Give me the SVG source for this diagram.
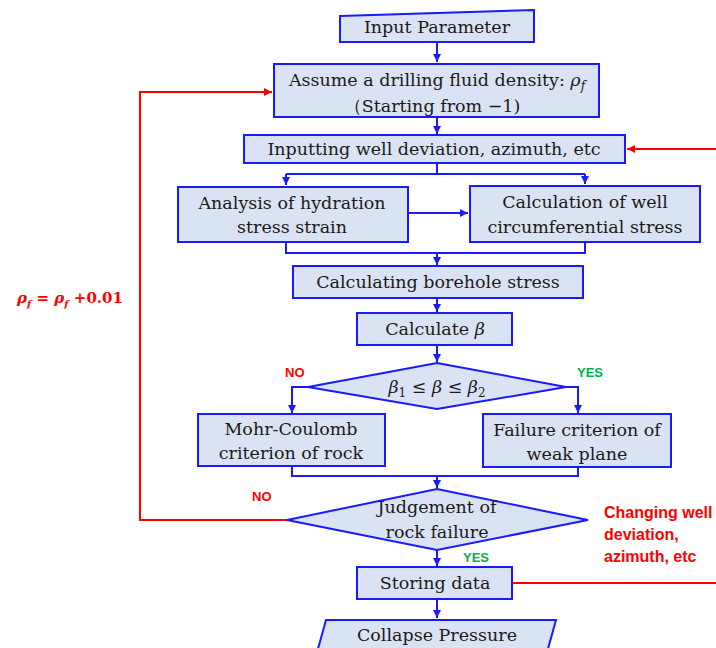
<svg xmlns="http://www.w3.org/2000/svg" width="716" height="648" viewBox="0 0 716 648">
<defs>
<marker id="ab" markerUnits="userSpaceOnUse" markerWidth="10" markerHeight="10" refX="8" refY="4" orient="auto"><path d="M0,0 L8,4 L0,8 Z" fill="#1a1aff"/></marker>
<marker id="ar" markerUnits="userSpaceOnUse" markerWidth="10" markerHeight="10" refX="8" refY="4" orient="auto"><path d="M0,0 L8,4 L0,8 Z" fill="#ff0000"/></marker>
<style>
.n{fill:#dae3f3;stroke:#1a1aff;stroke-width:2}
.t{font-family:"DejaVu Serif","Liberation Serif",serif;font-size:17.5px;fill:#1a1a1a;text-anchor:middle}
.m{font-style:italic}
.c{fill:none;stroke:#1a1aff;stroke-width:2}
.r{fill:none;stroke:#ff0000;stroke-width:2}
.lr{font-family:"Liberation Sans",Arial,sans-serif;font-weight:bold;font-size:13px;fill:#ff0000}
.lg{font-family:"Liberation Sans",Arial,sans-serif;font-weight:bold;font-size:13px;fill:#00b050}
.rl{font-family:"Liberation Sans",Arial,sans-serif;font-weight:bold;font-size:16px;fill:#ff0000}
</style>
</defs>
<g id="connectors">
<path class="c" d="M437 42 V62" marker-end="url(#ab)"/>
<path class="c" d="M437 117 V134" marker-end="url(#ab)"/>
<path class="c" d="M437 163 V174 M286 174 H585" />
<path class="c" d="M286 174 V185" marker-end="url(#ab)"/>
<path class="c" d="M585 174 V184" marker-end="url(#ab)"/>
<path class="c" d="M408 213 H468" marker-end="url(#ab)"/>
<path class="c" d="M286 242 V253 H585 V242"/>
<path class="c" d="M437 253 V265" marker-end="url(#ab)"/>
<path class="c" d="M437 298 V312" marker-end="url(#ab)"/>
<path class="c" d="M437 345 V362" marker-end="url(#ab)"/>
<path class="c" d="M308 387 H292 V413" marker-end="url(#ab)"/>
<path class="c" d="M566 387 H578 V413" marker-end="url(#ab)"/>
<path class="c" d="M292 466 V476 H578 V467"/>
<path class="c" d="M437 476 V488" marker-end="url(#ab)"/>
<path class="c" d="M437 550 V566" marker-end="url(#ab)"/>
<path class="c" d="M437 599 V618" marker-end="url(#ab)"/>
<path class="r" d="M287 520 H140 V92 H272" marker-end="url(#ar)"/>
<path class="r" d="M512 583 H716"/>
<path class="r" d="M716 149 H627" marker-end="url(#ar)"/>
</g>
<g id="input">
<polygon class="n" points="340,16 534,10 534,42 340,42"/>
<text class="t" x="437" y="33">Input Parameter</text>
</g>
<g id="assume">
<rect class="n" x="274" y="64" width="325" height="53"/>
<text class="t" x="437" y="86">Assume a drilling fluid density: <tspan class="m">ρ</tspan><tspan class="m" font-size="12" dy="4">f</tspan></text>
<text class="t" x="432" y="112">（Starting from −1)</text>
</g>
<g id="inputting">
<rect class="n" x="244" y="135" width="381" height="28"/>
<text class="t" x="434" y="155">Inputting well deviation, azimuth, etc</text>
</g>
<g id="hydration">
<rect class="n" x="178" y="187" width="230" height="55"/>
<text class="t" x="292" y="209">Analysis of hydration</text>
<text class="t" x="292" y="233">stress strain</text>
</g>
<g id="circum">
<rect class="n" x="470" y="186" width="230" height="56"/>
<text class="t" x="585" y="208">Calculation of well</text>
<text class="t" x="585" y="233">circumferential stress</text>
</g>
<g id="borehole">
<rect class="n" x="293" y="266" width="290" height="32"/>
<text class="t" x="438" y="288">Calculating borehole stress</text>
</g>
<g id="beta">
<rect class="n" x="357" y="313" width="155" height="32"/>
<text class="t" x="435" y="335">Calculate <tspan class="m">β</tspan></text>
</g>
<g id="cond">
<polygon class="n" points="437,363 566,387 437,409 308,387"/>
<text class="t" x="437" y="393"><tspan class="m">β</tspan><tspan font-size="12" dy="4">1</tspan><tspan dy="-4"> ≤ </tspan><tspan class="m">β</tspan> ≤ <tspan class="m">β</tspan><tspan font-size="12" dy="4">2</tspan></text>
</g>
<g id="mohr">
<rect class="n" x="198" y="414" width="187" height="52"/>
<text class="t" x="291" y="435">Mohr-Coulomb</text>
<text class="t" x="291" y="459">criterion of rock</text>
</g>
<g id="weak">
<rect class="n" x="483" y="414" width="188" height="53"/>
<text class="t" x="577" y="436">Failure criterion of</text>
<text class="t" x="577" y="460">weak plane</text>
</g>
<g id="judge">
<polygon class="n" points="437,489 588,520 437,550 287,520"/>
<text class="t" x="437" y="513">Judgement of</text>
<text class="t" x="437" y="538">rock failure</text>
</g>
<g id="store">
<rect class="n" x="357" y="567" width="155" height="32"/>
<text class="t" x="435" y="589">Storing data</text>
</g>
<g id="collapse">
<polygon class="n" points="326,620 556,620 546,656 316,656"/>
<text class="t" x="437" y="641">Collapse Pressure</text>
</g>
<g id="labels">
<text class="lr" x="285" y="377">NO</text>
<text class="lg" x="577" y="377">YES</text>
<text class="lr" x="252" y="501">NO</text>
<text class="lg" x="463" y="562">YES</text>
<text class="rl" x="604" y="518">Changing well</text>
<text class="rl" x="604" y="540">deviation,</text>
<text class="rl" x="604" y="562">azimuth, etc</text>
<text x="17" y="303" font-family="DejaVu Serif,serif" font-weight="bold" font-size="15" fill="#ff0000"><tspan font-style="italic">ρ</tspan><tspan font-style="italic" font-size="10" dy="4">f</tspan><tspan dy="-4"> = </tspan><tspan font-style="italic">ρ</tspan><tspan font-style="italic" font-size="10" dy="4">f</tspan><tspan dy="-4"> +0.01</tspan></text>
</g>
</svg>
